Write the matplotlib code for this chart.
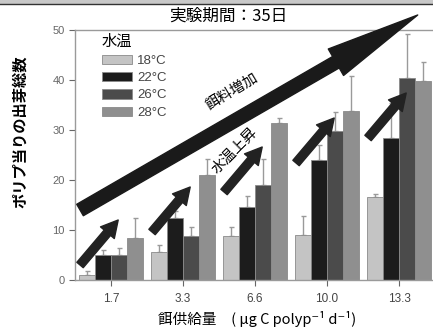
import numpy as np
import matplotlib
matplotlib.use("Agg")
import matplotlib.pyplot as plt
from matplotlib.patches import Rectangle

plt.rcParams['font.family'] = ['Noto Sans CJK JP', 'DejaVu Sans']

# data
feed = ['1.7', '3.3', '6.6', '10.0', '13.3']
temps = ['18°C', '22°C', '26°C', '28°C']
buds_18 = [1.0, 5.7, 8.9, 9.0, 16.7]
buds_22 = [5.1, 12.4, 14.7, 24.1, 28.5]
buds_26 = [5.1, 8.9, 19.0, 29.9, 40.5]
buds_28 = [8.5, 21.1, 31.5, 33.8, 39.8]
err_18 = [0.9, 1.4, 1.8, 3.9, 0.5]
err_22 = [1.0, 1.5, 2.1, 3.0, 7.0]
err_26 = [1.4, 1.8, 5.3, 3.8, 8.8]
err_28 = [4.0, 3.1, 1.0, 7.1, 3.9]

series = [buds_18, buds_22, buds_26, buds_28]
errors = [err_18, err_22, err_26, err_28]
colors = ['#c4c4c4', '#1c1c1c', '#4b4b4b', '#8f8f8f']

fig = plt.figure(figsize=(4.33, 3.30), dpi=100)
ax = fig.add_axes([75 / 433, 50 / 330, 360 / 433, 250 / 330])

x = np.arange(len(feed))
w = 0.222
for k in range(4):
    pos = x + (k - 1.5) * w
    ax.bar(pos, series[k], width=w, color=colors[k], edgecolor='#8a8a8a',
           linewidth=0.6, label=temps[k], zorder=2)
    ax.errorbar(pos, series[k], yerr=[np.zeros(5), errors[k]], fmt='none',
                ecolor='#9a9a9a', elinewidth=1.0, capsize=1.8, capthick=1.0,
                zorder=1)

ax.set_xlim(-0.5, 4.5)
ax.set_ylim(0, 50)
ax.set_yticks([0, 10, 20, 30, 40, 50])
ax.set_xticks(x)
ax.set_xticklabels(feed, family='Liberation Sans', fontsize=8.5, color='#444444')
for t in ax.get_yticklabels():
    t.set_family('Liberation Sans')
ax.tick_params(axis='y', labelsize=8, colors='#666666', length=4, width=0.8)
ax.tick_params(axis='x', length=4, width=0.8, color='#666666', pad=5)
for s in ['left', 'top', 'bottom']:
    ax.spines[s].set_color('#9a9a9a')
    ax.spines[s].set_linewidth(1.0)
ax.spines['right'].set_visible(False)

leg = ax.legend(loc='upper left', bbox_to_anchor=(0.075, 0.99), frameon=False,
                title='水温', fontsize=9.5, title_fontsize=11,
                handlelength=2.3, handleheight=0.72, handletextpad=0.35,
                labelspacing=0.38, borderpad=0, borderaxespad=0,
                alignment='left')
for t in leg.get_texts():
    t.set_color('#444444')
    t.set_family('Liberation Sans')

# big arrow: feed increase
ax.annotate('', xy=(4.26, 53), xytext=(-0.43, 14), annotation_clip=False,
            arrowprops=dict(arrowstyle='simple,head_length=68,head_width=22,tail_width=9.5',
                            mutation_scale=1, color='#1a1a1a', shrinkA=0, shrinkB=0,
                            clip_on=False), zorder=5)

# small arrows: temperature rise
arrow_y0 = [3.0, 9.6, 17.6, 23.4, 28.4]
for i in range(5):
    ax.annotate('', xy=(i + 0.1, arrow_y0[i] + 9.0), xytext=(i - 0.43, arrow_y0[i]),
                annotation_clip=False,
                arrowprops=dict(arrowstyle='simple,head_length=12,head_width=13,tail_width=6',
                                mutation_scale=1, color='#222222', shrinkA=0, shrinkB=0),
                zorder=5)

ax.text(1.68, 37.8, '餌料増加', rotation=31, ha='center', va='center',
        fontsize=10.5, zorder=6)
ax.text(1.72, 25.8, '水温上昇', rotation=45, ha='center', va='center',
        fontsize=10.5, zorder=6)

fig.text(0.527, 1 - 16 / 330, '実験期間：35日', ha='center', va='center', fontsize=12)
fig.text(20 / 433, 1 - 132 / 330, 'ポリプ当りの出芽総数', rotation=90, ha='center',
         va='center', fontsize=11, fontweight='bold')
fig.text(257 / 433, 1 - 319 / 330, '餌供給量　( μg C polyp⁻¹ d⁻¹)', ha='center',
         va='center', fontsize=10.5)

# grey band along the top edge
fig.patches.append(Rectangle((0, 1 - 3.5 / 330), 1, 3.5 / 330, transform=fig.transFigure,
                             facecolor='#c8c8c8', edgecolor='none'))
fig.lines.append(plt.Line2D([0, 1], [1 - 4 / 330, 1 - 4 / 330], transform=fig.transFigure,
                            color='#333333', linewidth=1.0))

fig.savefig('out.png', dpi=100)
